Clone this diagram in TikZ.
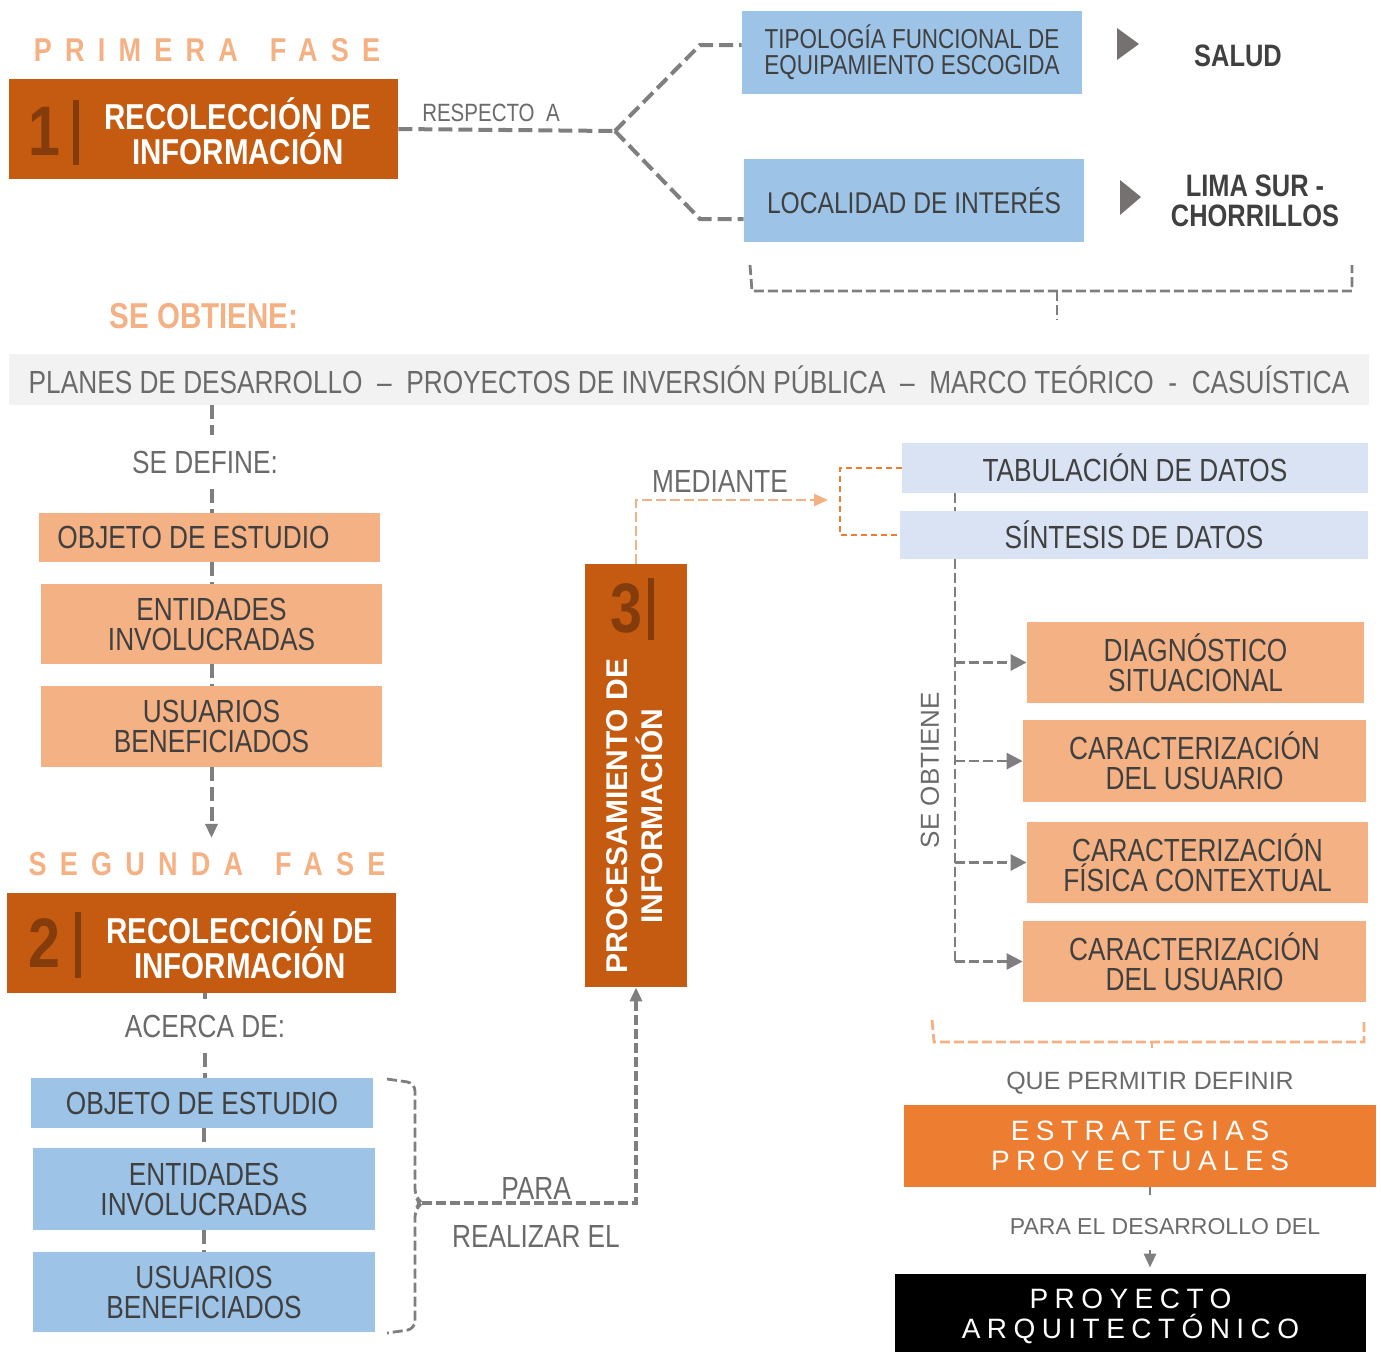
\documentclass[tikz,border=0pt]{standalone}
\usepackage{fontspec}
\setmainfont{Liberation Sans}
\newfontfamily\narrowfont[FakeStretch=0.82]{Liberation Sans}
\usetikzlibrary{arrows.meta,calc}
\definecolor{rust}{HTML}{C55A11}
\definecolor{rustdark}{HTML}{843C0C}
\definecolor{peach}{HTML}{F4B183}
\definecolor{sky}{HTML}{9DC3E6}
\definecolor{pale}{HTML}{DAE3F3}
\definecolor{bandgray}{HTML}{F2F2F2}
\definecolor{tangerine}{HTML}{ED7D31}
\definecolor{ink}{HTML}{404040}
\definecolor{mute}{HTML}{6A6A6A}
\definecolor{linegray}{HTML}{7F7F7F}
\definecolor{tipgray}{HTML}{767171}
\begin{document}
\begin{tikzpicture}[x=0.5pt,y=-0.5pt,
  boxwh/.style 2 args={minimum width=#1*0.5pt,minimum height=#2*0.5pt},
  rustbox/.style={fill=rust},
  peachbox/.style={fill=peach,text=ink,font=\narrowfont\fontsize{16}{15}\selectfont},
  skybox/.style={fill=sky,text=ink,font=\narrowfont\fontsize{16}{15}\selectfont},
  palebox/.style={fill=pale,text=ink,font=\narrowfont\fontsize{16}{15}\selectfont},
  lbl/.style={text=mute,font=\narrowfont\fontsize{16}{15}\selectfont,outer sep=8pt},
  fasetxt/.style={text=peach,font=\narrowfont\bfseries\fontsize{16.5}{15}\selectfont\addfontfeatures{LetterSpace=40}},
  titletxt/.style={text=white,font=\narrowfont\bfseries\fontsize{18}{17.5}\selectfont},
  numtxt/.style={text=rustdark,font=\narrowfont\bfseries\fontsize{35}{35}\selectfont},
  spaced/.style={text=white,font=\fontsize{14}{15}\selectfont\addfontfeatures{LetterSpace=23}},
  gdash/.style={draw=linegray,line width=2pt,dash pattern=on 7pt off 3pt},
  gthin/.style={draw=linegray,line width=1.4pt,dash pattern=on 5pt off 2pt},
  odash/.style={draw=peach,line width=1.4pt,dash pattern=on 5pt off 2pt},
  tip/.style={-{Triangle[length=7pt,width=6pt]}},
  bigtip/.style={-{Triangle[length=8pt,width=8pt]}}
]
\tikzstyle{every node}+=[inner sep=0pt,align=center]
\useasboundingbox (0,0) rectangle (1381,1351);

\node[fasetxt] (fase1) at (207,50) {PRIMERA\hspace{16pt}FASE};
\node[rustbox,boxwh={389}{100}] (rec1) at (203.5,129) {};
\node[titletxt] (rec1txt) at (238,131.5) {RECOLECCIÓN DE\\INFORMACIÓN};
\node[numtxt] (num1) at (44,131) {1};
\draw[rustdark,line width=3pt] (76,100) -- (76,165);
\node[text=mute,font=\narrowfont\fontsize{12.5}{12}\selectfont] (resp) at (491,113) {RESPECTO\ \ A};

\node[skybox,boxwh={340}{83},font=\narrowfont\fontsize{13.7}{13}\selectfont] (tipo) at (912,52.5) {TIPOLOGÍA FUNCIONAL DE\\EQUIPAMIENTO ESCOGIDA};
\node[skybox,boxwh={340}{83},font=\narrowfont\fontsize{15}{15}\selectfont] (loc) at (914,200.5) {LOCALIDAD DE INTERÉS};
\coordinate (fork) at (615,131);
\draw[gdash] (rec1.east) -- (fork);
\draw[gdash] (fork) -- (700,45) -- ($(tipo.west)+(0,-7.5)$);
\draw[gdash] (fork) -- (700,219) -- ($(loc.west)+(0,18.5)$);
\fill[tipgray] (1117,28) -- (1139,44) -- (1117,60) -- cycle;
\fill[tipgray] (1120,180) -- (1141,197) -- (1120,215) -- cycle;
\node[text=ink,font=\narrowfont\bfseries\fontsize{15.5}{15}\selectfont] (salud) at (1238,56) {SALUD};
\node[text=ink,font=\narrowfont\bfseries\fontsize{15.5}{15}\selectfont] (lima) at (1255,201) {LIMA SUR -\\CHORRILLOS};
\draw[gthin] (750,265) -- (752,291) -- (1352,291) -- (1352,265);
\draw[gthin] (1057,291) -- (1057,320);

\node[text=peach,font=\narrowfont\bfseries\fontsize{18}{18}\selectfont] (obt1) at (204,316) {SE OBTIENE:};
\node[fill=bandgray,boxwh={1360}{51},text=mute,font=\narrowfont\fontsize{16}{16}\selectfont] (band) at (689,379.5) {PLANES DE DESARROLLO \ – \ PROYECTOS DE INVERSIÓN PÚBLICA \ – \ MARCO TEÓRICO \ - \ CASUÍSTICA};

\node[lbl] (define) at (205,462) {SE DEFINE:};
\node[peachbox,boxwh={341}{49}] (obj1) at (209.5,537.5) {OBJETO DE ESTUDIO\kern16pt};
\node[peachbox,boxwh={341}{80}] (ent1) at (211.5,624) {ENTIDADES\\INVOLUCRADAS};
\node[peachbox,boxwh={341}{81}] (usr1) at (211.5,726.5) {USUARIOS\\BENEFICIADOS};
\draw[gdash] (band.south -| usr1.north) -- (define.north -| usr1.north);
\draw[gdash] (define.south -| usr1.north) -- (obj1.north -| usr1.north);
\draw[gdash] (obj1.south -| usr1.north) -- (ent1.north);
\draw[gdash] (ent1.south) -- (usr1.north);
\node[fasetxt] (fase2) at (207,864) {SEGUNDA\hspace{16pt}FASE};
\draw[gdash,tip,shorten >=7pt] (usr1.south) -- (usr1.south |- fase2.north);

\node[rustbox,boxwh={389}{100}] (rec2) at (201.5,943) {};
\node[titletxt] (rec2txt) at (240,945.5) {RECOLECCIÓN DE\\INFORMACIÓN};
\node[numtxt] (num2) at (44,943) {2};
\draw[rustdark,line width=3pt] (78,912) -- (78,978);
\node[lbl] (acerca) at (205,1026) {ACERCA DE:};
\node[skybox,boxwh={342}{50}] (obj2) at (202,1103) {OBJETO DE ESTUDIO};
\node[skybox,boxwh={342}{82}] (ent2) at (204,1189) {ENTIDADES\\INVOLUCRADAS};
\node[skybox,boxwh={342}{80}] (usr2) at (204,1292) {USUARIOS\\BENEFICIADOS};
\draw[gdash] (rec2.south -| acerca.north) -- (acerca.north);
\draw[gdash] (acerca.south) -- (acerca.south |- obj2.north);
\draw[gdash] (obj2.south -| ent2.north) -- (ent2.north);
\draw[gdash] (ent2.south) -- (usr2.north);
\coordinate (brk) at (422,1203);
\draw[gthin,rounded corners=4pt] (387,1079) -- (415,1083) -- (415,1197) -- (brk) -- (415,1209) -- (415,1329) -- (387,1333);

\node[rustbox,boxwh={102}{423}] (proc) at (636,775.5) {};
\node[numtxt] (num3) at (626,608) {3};
\draw[rustdark,line width=3pt] (651,578) -- (651,640);
\node[rotate=90,text=white,font=\bfseries\fontsize{15}{17.5}\selectfont] (proctxt) at (635,816) {PROCESAMIENTO DE\\INFORMACIÓN};
\draw[gthin,line width=1.6pt,tip] (brk) -- (brk -| proc.south) -- (proc.south);
\node[lbl,outer sep=0pt] (para) at (536,1188) {PARA};
\node[lbl,outer sep=0pt] (realizar) at (536,1236) {REALIZAR EL};

\node[palebox,boxwh={466}{50}] (tab) at (1135,468) {TABULACIÓN DE DATOS};
\node[palebox,boxwh={468}{48}] (sin) at (1134,535) {SÍNTESIS DE DATOS};
\coordinate (med) at (828,500);
\draw[odash,tip] (proc.north) -- (proc.north |- med) -- (med);
\node[lbl,outer sep=0pt] (mediante) at (720,481) {MEDIANTE};
\draw[tangerine,line width=1pt,dash pattern=on 3pt off 2pt] (tab.west) -- ++(-62,0) |- (sin.west);

\node[peachbox,boxwh={337}{81}] (d1) at (1195.5,662.5) {DIAGNÓSTICO\\SITUACIONAL};
\node[peachbox,boxwh={343}{82}] (d2) at (1194.5,761) {CARACTERIZACIÓN\\DEL USUARIO};
\node[peachbox,boxwh={341}{81}] (d3) at (1197.5,862.5) {CARACTERIZACIÓN\\FÍSICA CONTEXTUAL};
\node[peachbox,boxwh={343}{81}] (d4) at (1194.5,961.5) {CARACTERIZACIÓN\\DEL USUARIO};
\coordinate (spine) at (955,0);
\draw[gthin] (tab.south -| spine) -- (sin.north -| spine);
\draw[gthin] (sin.south -| spine) -- (spine |- d4.west);
\foreach \d in {d1,d2,d3,d4}
  \draw[gthin,bigtip] (spine |- \d.west) -- (\d.west);
\node[rotate=90,text=mute,font=\fontsize{13}{13}\selectfont] (obt2) at (930,770) {SE OBTIENE};
\draw[odash] (932,1020) -- (934,1042) -- (1364,1042) -- (1364,1020);
\draw[odash] (1152,1042) -- (1152,1048);

\node[text=mute,font=\fontsize{12.5}{12}\selectfont] (permitir) at (1150,1083) {QUE PERMITIR DEFINIR};
\node[fill=tangerine,boxwh={472}{82},spaced] (estr) at (1140,1146) {ESTRATEGIAS\\PROYECTUALES};
\coordinate (ax) at (1150,0);
\draw[gthin] (estr.south -| ax) -- ++(0,8);
\node[text=mute,font=\fontsize{11.5}{12}\selectfont] (desarr) at (1165,1227) {PARA EL DESARROLLO DEL};
\node[fill=black,boxwh={471}{84},spaced] (proy) at (1130.5,1316) {PROYECTO\\ARQUITECTÓNICO};
\draw[gthin,tip,shorten >=3pt] ($(ax |- proy.north)+(0,-24)$) -- (ax |- proy.north);
\end{tikzpicture}
\end{document}
